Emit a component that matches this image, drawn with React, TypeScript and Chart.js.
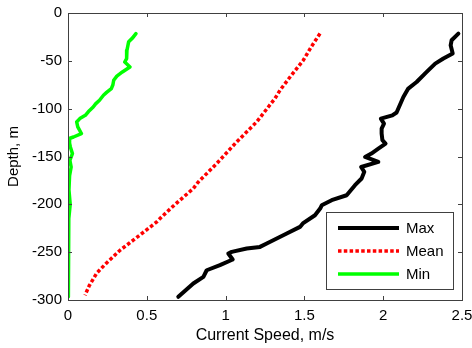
import React, { useEffect, useRef } from "react";
import { Chart, registerables } from "chart.js";

Chart.register(...registerables);

// ---- data ----
const seriesNames = ["Max", "Mean", "Min"];
const seriesColors = ["#000000", "#ff0000", "#00ff00"];

const maxDepth = [-21.5, -28.5, -33.8, -42.4, -47.6, -52.9, -61.6, -72.1, -79, -87.8, -99.9, -104, -107, -110.4, -115.6, -120.8, -126, -133, -136.5, -141.7, -146.9, -150.5, -155.7, -161, -166, -173, -180, -190.5, -195.7, -201, -204.4, -211.4, -220, -223.6, -230.5, -240.9, -244.5, -246.2, -249.7, -251.4, -257.7, -263.6, -268.9, -275.9, -282.8, -296.7];
const maxSpeed = [2.477, 2.434, 2.428, 2.441, 2.382, 2.33, 2.276, 2.212, 2.159, 2.128, 2.096, 2.085, 2.058, 1.985, 2.005, 1.99, 1.99, 1.995, 2.015, 1.969, 1.925, 1.885, 1.969, 1.86, 1.88, 1.863, 1.821, 1.768, 1.673, 1.61, 1.6, 1.567, 1.49, 1.472, 1.388, 1.261, 1.218, 1.134, 1.039, 1.017, 1.045, 0.964, 0.88, 0.859, 0.795, 0.7];

const meanDepth = [-21.5, -35, -49.4, -66.9, -80.8, -89.4, -113.9, -134.8, -157.4, -176.6, -183.5, -200, -213, -218.4, -237.5, -248, -253, -262, -272, -285, -295];
const meanSpeed = [1.599, 1.545, 1.493, 1.409, 1.345, 1.313, 1.197, 1.07, 0.943, 0.827, 0.795, 0.68, 0.595, 0.563, 0.414, 0.33, 0.298, 0.24, 0.182, 0.135, 0.108];

const minDepth = [-21.5, -26, -30, -39, -47.6, -51.2, -53.5, -56.4, -61.6, -66, -70.3, -75, -79, -83, -86, -91.2, -95, -98.2, -103, -107, -110.4, -113.9, -119, -126, -129.6, -131.2, -136, -140, -147, -154, -161, -170, -185, -200, -215, -240, -270, -296.7];
const minSpeed = [0.431, 0.41, 0.385, 0.374, 0.372, 0.36, 0.375, 0.393, 0.345, 0.31, 0.29, 0.285, 0.275, 0.245, 0.225, 0.2, 0.175, 0.16, 0.13, 0.11, 0.075, 0.055, 0.062, 0.085, 0.035, 0.008, 0.01, 0.015, 0.028, 0.012, 0.02, 0.01, 0.006, 0.014, 0.005, 0.003, 0.002, 0.002];

const xTicks = [0, 0.5, 1, 1.5, 2, 2.5];
const yTicks = [-300, -250, -200, -150, -100, -50, 0];
const xTitle = "Current Speed, m/s";
const yTitle = "Depth, m";

const FONT = "'Liberation Sans', Arial, Helvetica, sans-serif";
const AXIS_COLOR = "#404040";

function pts(xs: number[], ys: number[]) {
  return xs.map((x, i) => ({ x, y: ys[i] }));
}

const boxPlugin = {
  id: "matlabBox",
  afterDraw(chart: any) {
    const { ctx, chartArea } = chart;
    const { left, right, top, bottom } = chartArea;
    const xs = chart.scales.x;
    const ys = chart.scales.y;
    ctx.save();
    ctx.strokeStyle = AXIS_COLOR;
    ctx.lineWidth = 1;
    ctx.strokeRect(Math.round(left) + 0.5, Math.round(top) + 0.5, Math.round(right - left), Math.round(bottom - top));
    const tl = 4;
    ctx.beginPath();
    xTicks.forEach((v) => {
      const px = Math.round(xs.getPixelForValue(v)) + 0.5;
      ctx.moveTo(px, bottom);
      ctx.lineTo(px, bottom - tl);
      ctx.moveTo(px, top);
      ctx.lineTo(px, top + tl);
    });
    yTicks.forEach((v) => {
      const py = Math.round(ys.getPixelForValue(v)) + 0.5;
      ctx.moveTo(left, py);
      ctx.lineTo(left + tl, py);
      ctx.moveTo(right, py);
      ctx.lineTo(right - tl, py);
    });
    ctx.stroke();

    // legend box
    const lx = 326, ly = 212, lw = 127, lh = 77;
    ctx.fillStyle = "#ffffff";
    ctx.fillRect(lx, ly, lw, lh);
    ctx.strokeStyle = AXIS_COLOR;
    ctx.strokeRect(lx + 0.5, ly + 0.5, lw, lh);
    const rows = [228, 251, 274];
    chart.data.datasets.forEach((ds: any, i: number) => {
      const yy = rows[i];
      ctx.beginPath();
      ctx.strokeStyle = ds.borderColor;
      ctx.lineWidth = ds.borderWidth;
      ctx.setLineDash(ds.borderDash || []);
      ctx.lineCap = "butt";
      ctx.moveTo(338, yy);
      ctx.lineTo(399, yy);
      ctx.stroke();
      ctx.setLineDash([]);
      ctx.fillStyle = "#000";
      ctx.font = `15px ${FONT}`;
      ctx.textAlign = "left";
      ctx.textBaseline = "middle";
      ctx.fillText(ds.label, 406, yy + 1);
    });
    ctx.restore();
  },
};

export default function App() {
  const ref = useRef<HTMLCanvasElement | null>(null);

  useEffect(() => {
    document.body.style.margin = "0";
    const canvas = ref.current;
    if (!canvas) return;
    const chart = new Chart(canvas, {
      type: "line",
      data: {
        datasets: [
          {
            label: seriesNames[0],
            data: pts(maxSpeed, maxDepth),
            borderColor: seriesColors[0],
            borderWidth: 4,
            pointRadius: 0,
            borderJoinStyle: "round",
            borderCapStyle: "round",
            tension: 0,
          },
          {
            label: seriesNames[1],
            data: pts(meanSpeed, meanDepth),
            borderColor: seriesColors[1],
            borderWidth: 3.5,
            borderDash: [3.5, 2.3],
            pointRadius: 0,
            borderCapStyle: "butt",
            tension: 0,
          },
          {
            label: seriesNames[2],
            data: pts(minSpeed, minDepth),
            borderColor: seriesColors[2],
            borderWidth: 3.5,
            pointRadius: 0,
            borderJoinStyle: "round",
            borderCapStyle: "round",
            tension: 0,
          },
        ],
      },
      options: {
        responsive: false,
        animation: false,
        layout: { padding: { top: 13, right: 10, bottom: 0, left: 0 } },
        plugins: { legend: { display: false }, tooltip: { enabled: false } },
        scales: {
          x: {
            type: "linear",
            min: 0,
            max: 2.5,
            grid: { display: false, drawTicks: false },
            border: { display: false },
            afterBuildTicks: (s: any) => {
              s.ticks = xTicks.map((v) => ({ value: v }));
            },
            afterFit: (s: any) => {
              s.height = 48;
              s.paddingLeft = 0;
              s.paddingRight = 0;
            },
            ticks: {
              padding: 7,
              color: "#000",
              font: { family: FONT, size: 15 },
              maxRotation: 0,
              autoSkip: false,
              callback: (v: any) => String(v),
            },
            title: {
              display: true,
              text: xTitle,
              color: "#000",
              font: { family: FONT, size: 16 },
              padding: { top: 0, bottom: 3 },
            },
          },
          y: {
            type: "linear",
            min: -300,
            max: 0,
            grid: { display: false, drawTicks: false },
            border: { display: false },
            afterBuildTicks: (s: any) => {
              s.ticks = yTicks.map((v) => ({ value: v }));
            },
            afterFit: (s: any) => {
              s.width = 68;
              s.paddingTop = 0;
              s.paddingBottom = 0;
            },
            ticks: {
              padding: 6,
              color: "#000",
              font: { family: FONT, size: 15 },
              autoSkip: false,
              callback: (v: any) => String(v),
            },
            title: {
              display: true,
              text: yTitle,
              color: "#000",
              font: { family: FONT, size: 15 },
              padding: { top: 5, bottom: 0 },
            },
          },
        },
      },
      plugins: [boxPlugin],
    } as any);
    return () => chart.destroy();
  }, []);

  return (
    <div style={{ width: 472, height: 348 }}>
      <canvas ref={ref} width={472} height={348} />
    </div>
  );
}
